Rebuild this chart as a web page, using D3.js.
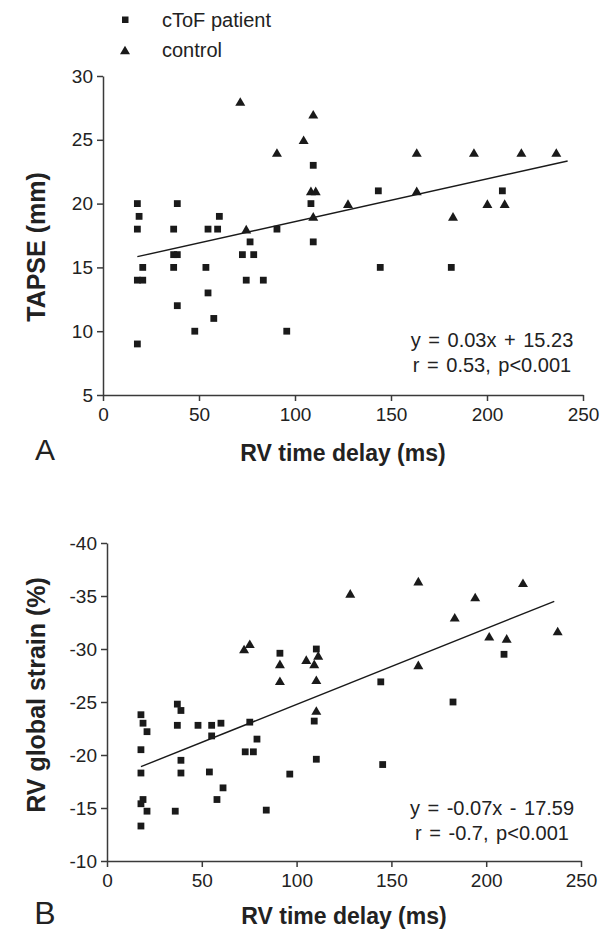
<!DOCTYPE html>
<html>
<head>
<meta charset="utf-8">
<script src="https://cdn.jsdelivr.net/npm/d3@7"></script>
<style>
  body { margin: 0; background: #fff; }
  svg { font-family: "Liberation Sans", Arial, sans-serif; }
  .axis path, .axis line { stroke: #3a3a3a; stroke-width: 1.5; }
  .axis text { fill: #222; font-size: 19px; }
</style>
</head>
<body>
<div id="chart"></div>
<script>
// panel A: TAPSE vs RV time delay
var timeA_patient = [17.9, 18.8, 17.9, 38.7, 36.8, 54.7, 59.7, 60.6, 36.8, 38.7, 20.7, 36.8, 53.6, 17.9, 20.7,
  54.7, 38.7, 57.7, 47.8, 17.9, 76.6, 72.6, 78.5, 74.6, 83.5, 90.6, 95.7, 109.5, 108.3, 109.5, 143.4, 208, 144.4, 181.4];
var tapse_patient = [20, 19, 18, 20, 18, 18, 18, 19, 16, 16, 15, 15, 15, 14, 14,
  13, 12, 11, 10, 9, 17, 16, 16, 14, 14, 18, 10, 23, 20, 17, 21, 21, 15, 15];
var timeA_control = [71.5, 109.5, 104.5, 90.6, 108.3, 110.8, 127.6, 74.6, 109.5, 163.4, 193.2, 217.9, 236.1, 163.4, 182.3, 200.2, 209.2];
var tapse_control = [28, 27, 25, 24, 21, 21, 20, 18, 19, 24, 24, 24, 24, 21, 19, 20, 20];
var fitA_x = [17.9, 242];
var fitA_y = [15.84, 23.34];

// panel B: RV global strain vs RV time delay
var timeB_patient = [17.9, 19.0, 21.1, 17.9, 17.9, 19.0, 17.9, 21.1, 17.9, 37.1, 39.0, 37.1, 39.0, 39.0, 36.0,
  48.0, 55.2, 55.2, 60.1, 54.0, 61.2, 58.0, 75.3, 79.1, 72.9, 77.2, 84.0, 96.4, 91.2, 110.4, 109.3, 110.4,
  209.4, 144.4, 182.5, 145.4];
var strain_patient = [-23.8, -23.0, -22.2, -20.5, -18.3, -15.8, -15.4, -14.7, -13.3, -24.8, -24.2, -22.8, -19.5, -18.3, -14.7,
  -22.8, -22.8, -21.8, -23.0, -18.4, -16.9, -15.8, -23.1, -21.5, -20.3, -20.3, -14.8, -18.2, -29.6, -30.0, -23.2, -19.6,
  -29.5, -26.9, -25.0, -19.1];
var timeB_control = [72.3, 75.3, 91.2, 91.2, 105.1, 109.3, 111.4, 110.4, 110.4, 128.3, 164.2, 219.4, 194.2, 183.4, 237.7, 201.6, 210.8, 164.2];
var strain_control = [-30.0, -30.5, -28.6, -27.0, -29.0, -28.6, -29.4, -27.1, -24.2, -35.25, -36.4, -36.25, -34.9, -33.0, -31.7, -31.2, -31.0, -28.5];
var fitB_x = [17.9, 235.9];
var fitB_y = [-18.9, -34.5];

var xTicks = [0, 50, 100, 150, 200, 250];
var yTicksA = [5, 10, 15, 20, 25, 30];
var yTicksB = [-40, -35, -30, -25, -20, -15, -10];

var WIDTH = 603, HEIGHT = 931;

var svg = d3.select('#chart').append('svg')
  .attr('width', WIDTH)
  .attr('height', HEIGHT);

// triangle centred on its bounding box
var tri = {
  draw: function(ctx, size) {
    var w = 5, h = 4.3;
    ctx.moveTo(0, -h);
    ctx.lineTo(w, h);
    ctx.lineTo(-w, h);
    ctx.closePath();
  }
};

function zip(xs, ys) {
  return xs.map(function(d, i) { return { x: d, y: ys[i] }; });
}

// plain hyphen for negatives, like the original
function fmt(d) { return String(d); }

function panel(opt) {
  var x = d3.scaleLinear().domain([0, 250]).range(opt.xRange);
  var y = d3.scaleLinear().domain(opt.yDomain).range(opt.yRange);

  svg.append('g')
    .attr('class', 'axis')
    .attr('transform', 'translate(0,' + opt.yRange[0] + ')')
    .call(d3.axisBottom(x).tickValues(xTicks).tickFormat(fmt).tickSize(6).tickPadding(7).tickSizeOuter(0));

  svg.append('g')
    .attr('class', 'axis')
    .attr('transform', 'translate(' + opt.xRange[0] + ',0)')
    .call(d3.axisLeft(y).tickValues(opt.yTicks).tickFormat(fmt).tickSize(6).tickPadding(4).tickSizeOuter(0));

  var line = d3.line().x(function(d) { return x(d.x); }).y(function(d) { return y(d.y); });
  svg.append('path')
    .datum(zip(opt.fitX, opt.fitY))
    .attr('d', line)
    .attr('fill', 'none')
    .attr('stroke', '#1a1a1a')
    .attr('stroke-width', 1.4);

  svg.append('g').selectAll('rect')
    .data(zip(opt.px, opt.py))
    .join('rect')
      .attr('x', function(d) { return x(d.x) - 3.4; })
      .attr('y', function(d) { return y(d.y) - 3.4; })
      .attr('width', 6.8)
      .attr('height', 6.8)
      .attr('fill', '#1a1a1a');

  svg.append('g').selectAll('path')
    .data(zip(opt.cx, opt.cy))
    .join('path')
      .attr('d', d3.symbol().type(tri))
      .attr('transform', function(d) { return 'translate(' + x(d.x) + ',' + y(d.y) + ')'; })
      .attr('fill', '#1a1a1a');

  svg.append('text')
    .attr('x', (opt.xRange[0] + opt.xRange[1]) / 2)
    .attr('y', opt.yRange[0] + opt.titleDy)
    .attr('text-anchor', 'middle')
    .style('font-size', '23px')
    .style('font-weight', 'bold')
    .attr('fill', '#222')
    .text('RV time delay (ms)');

  svg.append('text')
    .attr('transform', 'translate(45,' + opt.titleY + ') rotate(-90)')
    .attr('text-anchor', 'middle')
    .style('font-size', '25px')
    .style('font-weight', 'bold')
    .attr('fill', '#222')
    .text(opt.yTitle);

  svg.append('text')
    .attr('x', 45)
    .attr('y', opt.yRange[0] + opt.letterDy)
    .attr('text-anchor', 'middle')
    .style('font-size', opt.letterSize)
    .attr('fill', '#222')
    .text(opt.letter);

  svg.selectAll(null)
    .data(opt.eq)
    .join('text')
      .attr('x', 492)
      .attr('y', function(d, i) { return opt.eqY + i * 24.5; })
      .attr('text-anchor', 'middle')
      .style('font-size', '20px')
      .style('word-spacing', '2px')
      .attr('fill', '#222')
      .text(function(d) { return d; });
}

panel({
  xRange: [103, 583], yDomain: [5, 30], yRange: [395, 76], yTicks: yTicksA,
  px: timeA_patient, py: tapse_patient, cx: timeA_control, cy: tapse_control,
  fitX: fitA_x, fitY: fitA_y,
  yTitle: 'TAPSE (mm)', titleY: 247, titleDy: 66,
  letter: 'A', letterDy: 65, letterSize: '30px',
  eq: ['y = 0.03x + 15.23', 'r = 0.53, p<0.001'], eqY: 347
});

panel({
  xRange: [107, 581], yDomain: [-10, -40], yRange: [861, 543], yTicks: yTicksB,
  px: timeB_patient, py: strain_patient, cx: timeB_control, cy: strain_control,
  fitX: fitB_x, fitY: fitB_y,
  yTitle: 'RV global strain (%)', titleY: 695, titleDy: 63,
  letter: 'B', letterDy: 63, letterSize: '32px',
  eq: ['y = -0.07x - 17.59', 'r = -0.7, p<0.001'], eqY: 815
});

// legend
var legend = svg.append('g');
legend.append('rect').attr('x', 122).attr('y', 16.5).attr('width', 6.5).attr('height', 6.5).attr('fill', '#1a1a1a');
legend.append('path').attr('d', d3.symbol().type(tri)).attr('transform', 'translate(125,50)').attr('fill', '#1a1a1a');
legend.append('text').attr('x', 162).attr('y', 27).style('font-size', '20px').attr('fill', '#222').text('cToF patient');
legend.append('text').attr('x', 162).attr('y', 57).style('font-size', '20px').attr('fill', '#222').text('control');
</script>
</body>
</html>
